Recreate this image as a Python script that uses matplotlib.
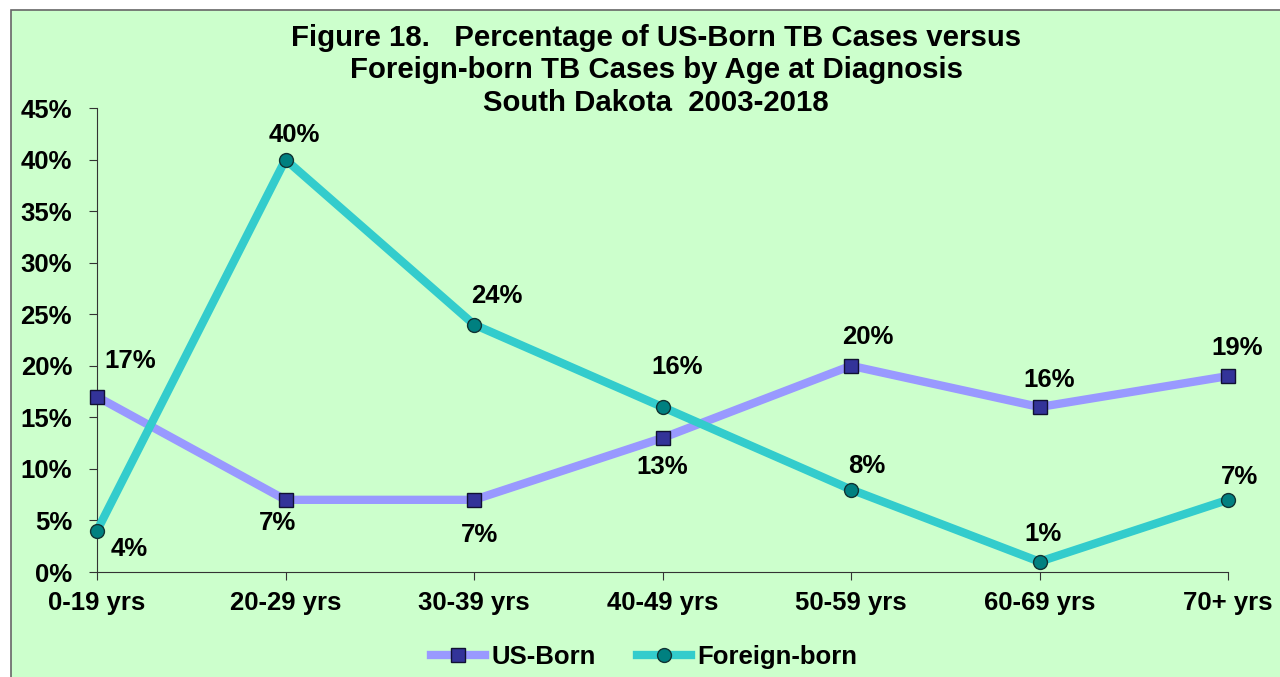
import matplotlib.pyplot as plt
from matplotlib.patches import Rectangle
from matplotlib.ticker import FuncFormatter

plt.rcParams['font.family'] = ['Liberation Sans', 'DejaVu Sans']
plt.rcParams['font.weight'] = 'bold'

# datos
grupos = ['0-19 yrs', '20-29 yrs', '30-39 yrs', '40-49 yrs', '50-59 yrs', '60-69 yrs', '70+ yrs']
us_born = [17, 7, 7, 13, 20, 16, 19]
foreign_born = [4, 40, 24, 16, 8, 1, 7]

# desplazamiento de las etiquetas en pixeles (dx, dy)
off_us = [(33, 36), (-8, -23), (6, -35), (0, -29), (17, 29), (10, 27), (9, 28)]
off_fb = [(32, -18), (9, 25), (23, 29), (15, 40), (16, 24), (3, 28), (11, 23)]

fs = 18.5

fig = plt.figure(figsize=(12.8, 6.77), dpi=100)
fig.patch.set_facecolor('white')
fondo = Rectangle((11 / 1280, -0.01), 1.0, (667 / 677) + 0.01, transform=fig.transFigure,
                  facecolor='#CCFFCC', edgecolor='#666666', linewidth=1.2, zorder=-10)
fig.patches.append(fondo)

ax = fig.add_axes([97 / 1280, 105 / 677, (1228 - 97) / 1280, (572 - 108) / 677])
ax.set_facecolor('none')
ax.set_zorder(5)
x = range(len(grupos))

ax.plot(x, us_born, color='#9999FF', linewidth=6, marker='s', markersize=10,
        markerfacecolor='#333399', markeredgecolor='#111133', markeredgewidth=1, label='US-Born',
        zorder=3, clip_on=False)
ax.plot(x, foreign_born, color='#33CCCC', linewidth=6, marker='o', markersize=10,
        markerfacecolor='#008080', markeredgecolor='#113333', markeredgewidth=1, label='Foreign-born',
        zorder=4, clip_on=False)

for i in x:
    ax.annotate(f'{us_born[i]}%', (i, us_born[i]), xytext=off_us[i], textcoords='offset pixels',
                ha='center', va='center', fontsize=fs, fontweight='bold')
    ax.annotate(f'{foreign_born[i]}%', (i, foreign_born[i]), xytext=off_fb[i], textcoords='offset pixels',
                ha='center', va='center', fontsize=fs, fontweight='bold')

ax.set_xlim(0, 6)
ax.set_ylim(0, 45)
ax.set_yticks(range(0, 46, 5))
ax.yaxis.set_major_formatter(FuncFormatter(lambda v, p: f'{int(v)}%'))
ax.set_xticks(list(x))
ax.set_xticklabels(grupos)
ax.tick_params(axis='both', labelsize=fs, direction='out', length=6, color='#333333')
ax.tick_params(axis='y', pad=12)
ax.tick_params(axis='x', pad=8)
for lab in ax.get_xticklabels() + ax.get_yticklabels():
    lab.set_fontweight('bold')
ax.spines['top'].set_visible(False)
ax.spines['right'].set_visible(False)
ax.spines['left'].set_color('#333333')
ax.spines['bottom'].set_color('#333333')

fig.text(656 / 1280, 1 - 70.5 / 677, 'Figure 18.   Percentage of US-Born TB Cases versus\nForeign-born TB Cases by Age at Diagnosis\nSouth Dakota  2003-2018',
         ha='center', va='center', fontsize=21.2, fontweight='bold', linespacing=1.2)

leg = fig.legend(loc='center', bbox_to_anchor=(644 / 1280, 1 - 657 / 677), ncol=2, frameon=False,
                 fontsize=fs, handlelength=2.1, columnspacing=1.6, handletextpad=0.25)
for t in leg.get_texts():
    t.set_fontweight('bold')

plt.savefig('out.png', dpi=100)
